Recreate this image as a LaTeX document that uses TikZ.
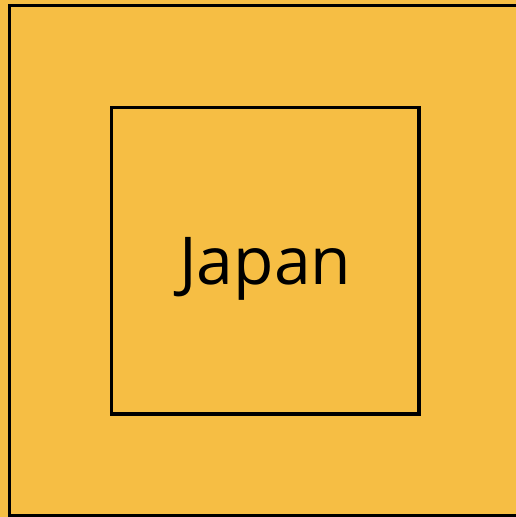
\documentclass[tikz,border=0pt]{standalone}
\usepackage{fontspec}
\setmainfont{Open Sans}
\usepackage{tikz}
\usetikzlibrary{positioning}
\definecolor{regionfill}{RGB}{246,190,68}

\begin{document}
\begin{tikzpicture}[x=1pt, y=-1pt,
  area/.style={draw, line width=3.2pt, fill=regionfill, inner sep=0pt},
  label text/.style={font=\fontsize{66}{66}\selectfont, text height=47pt, text depth=0pt}
]
\useasboundingbox (0,0) rectangle (516,517);
\fill[regionfill] (0,0) rectangle (516,517);
\node[area, minimum width=531.5pt, minimum height=510.5pt] (world) at (275.25,260.75) {};
\node[area, label text, minimum width=307.5pt, minimum height=306.5pt] (japan) at (265.25,260.75) {Japan};
\end{tikzpicture}
\end{document}
